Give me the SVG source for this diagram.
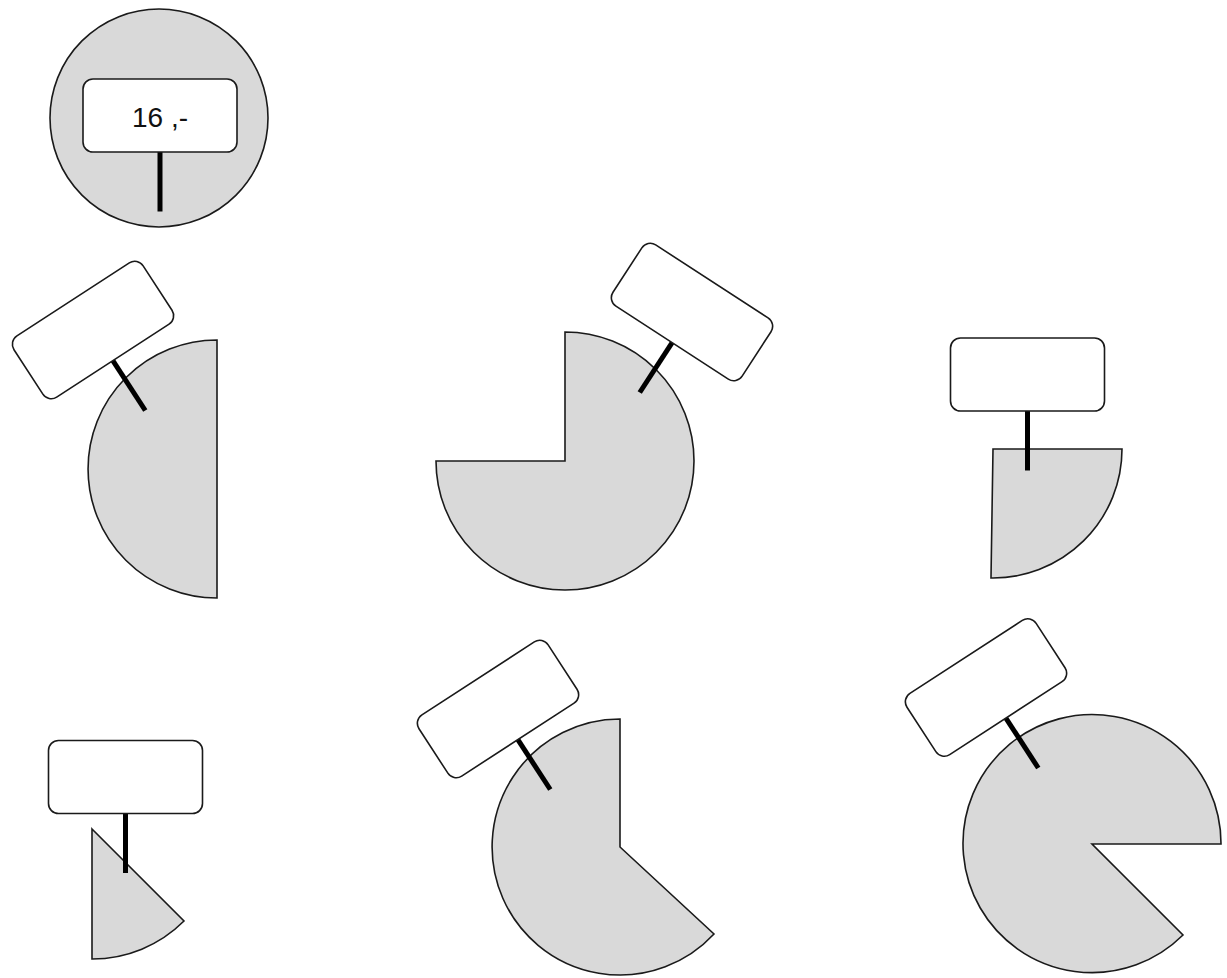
<svg xmlns="http://www.w3.org/2000/svg" width="1227" height="978" viewBox="0 0 1227 978">
<defs>
<style>
.pie{fill:#d9d9d9;stroke:#1a1a1a;stroke-width:1.6;stroke-linejoin:miter}
.board{fill:#ffffff;stroke:#1a1a1a;stroke-width:1.6}
.stem{stroke:#000000;stroke-width:5;stroke-linecap:butt}
.price{font-family:"Liberation Sans",Arial,sans-serif;font-size:28px;fill:#111111}
</style>
<g id="sign">
<line class="stem" x1="0" y1="36.5" x2="0" y2="96"/>
<rect class="board" x="-77" y="-36.5" width="154" height="73" rx="10" ry="10"/>
</g>
</defs>
<rect width="1227" height="978" fill="#ffffff"/>

<g id="whole-pie">
<circle class="pie" cx="159" cy="118" r="109"/>
<use href="#sign" transform="translate(160,115.5)"/>
<text class="price" x="160" y="127" text-anchor="middle">16 ,-</text>
</g>

<g id="half-pie">
<path class="pie" d="M217,340 A129,129 0 0 0 217,598 Z"/>
<use href="#sign" transform="translate(93,330) rotate(-33)"/>
</g>

<g id="three-quarter-pie">
<path class="pie" d="M565,461 L565,332 A129,129 0 1 1 436,461 Z"/>
<use href="#sign" transform="translate(692,312) rotate(33)"/>
</g>

<g id="quarter-pie">
<path class="pie" d="M993,449 L1122,449 A129,129 0 0 1 991,578 Z"/>
<use href="#sign" transform="translate(1027.5,374.5)"/>
</g>

<g id="eighth-pie">
<path class="pie" d="M92,829 L184,921 A130,130 0 0 1 92,959 Z"/>
<use href="#sign" transform="translate(125.5,777)"/>
</g>

<g id="five-eighths-pie">
<path class="pie" d="M620,847 L620,719 A128,128 0 1 0 714,934 Z"/>
<use href="#sign" transform="translate(498,709) rotate(-33)"/>
</g>

<g id="seven-eighths-pie">
<path class="pie" d="M1092,844 L1221,844 A129,129 0 1 0 1183,935 Z"/>
<use href="#sign" transform="translate(986,687.5) rotate(-33)"/>
</g>

<g id="connectors"></g>
</svg>
